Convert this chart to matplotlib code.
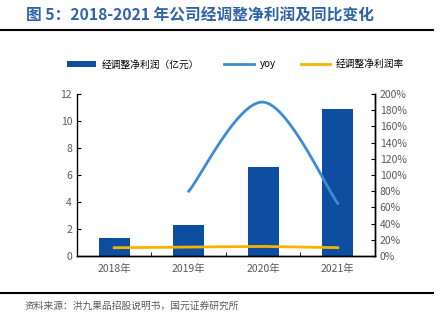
import numpy as np
import matplotlib
matplotlib.use("Agg")
import matplotlib.pyplot as plt
from matplotlib.ticker import FuncFormatter

plt.rcParams['font.family'] = ['Noto Sans CJK SC', 'DejaVu Sans']

years = ["2018年", "2019年", "2020年", "2021年"]
profit = [1.3, 2.3, 6.6, 10.9]          # 经调整净利润（亿元）
yoy = [None, 80, 190, 65]               # %
margin = [10.2, 11.0, 11.8, 10.3]       # 经调整净利润率 %

BAR = '#0d4ea0'
LINE = '#3d8bd6'
YEL = '#f5b400'
GREY = '#595959'


def smooth(xs, ys, n=40):
	# catmull-rom style smoothing, like the office "smoothed line"
	xs = np.asarray(xs, float); ys = np.asarray(ys, float)
	px, py = [], []
	for i in range(len(xs) - 1):
		x0, y0 = (xs[i-1], ys[i-1]) if i > 0 else (xs[i], ys[i])
		x3, y3 = (xs[i+2], ys[i+2]) if i + 2 < len(xs) else (xs[i+1], ys[i+1])
		x1, y1, x2, y2 = xs[i], ys[i], xs[i+1], ys[i+1]
		c1 = (x1 + (x2 - x0) / 6, y1 + (y2 - y0) / 6)
		c2 = (x2 - (x3 - x1) / 6, y2 - (y3 - y1) / 6)
		t = np.linspace(0, 1, n)
		px.append((1-t)**3*x1 + 3*(1-t)**2*t*c1[0] + 3*(1-t)*t**2*c2[0] + t**3*x2)
		py.append((1-t)**3*y1 + 3*(1-t)**2*t*c1[1] + 3*(1-t)*t**2*c2[1] + t**3*y2)
	return np.concatenate(px), np.concatenate(py)


fig = plt.figure(figsize=(4.44, 3.22), dpi=100)
ax = fig.add_axes([0.1734, 0.205, 0.6712, 0.503])
ax2 = ax.twinx()

x = np.arange(len(years))
bars = ax.bar(x, profit, width=0.42, color=BAR, label="经调整净利润（亿元）", zorder=2)

yx = [i for i, v in enumerate(yoy) if v is not None]
yv = [v for v in yoy if v is not None]
sx, sy = smooth(yx, yv)
l1, = ax2.plot(sx, sy, color=LINE, lw=2, label="yoy")
l2, = ax2.plot(x, margin, color=YEL, lw=2, label="经调整净利润率")

ax.set_xlim(-0.5, 3.5)
ax.set_ylim(0, 12)
ax.set_yticks(range(0, 13, 2))
ax2.set_ylim(0, 200)
ax2.set_yticks(range(0, 201, 20))
ax2.yaxis.set_major_formatter(FuncFormatter(lambda v, p: f"{int(v)}%"))

ax.set_xticks(x)
ax.set_xticklabels(years)
ax.set_xticks([-0.5, 0.5, 1.5, 2.5, 3.5], minor=True)
ax.tick_params(axis='x', which='major', length=0, pad=6)
ax.tick_params(axis='x', which='minor', direction='in', length=3)
ax.tick_params(axis='y', direction='in', length=3)
ax2.tick_params(axis='y', direction='in', length=3)
for a in (ax, ax2):
	a.spines['top'].set_visible(False)
	for s in a.spines.values():
		s.set_linewidth(1)
	a.tick_params(labelsize=7.5, labelcolor=GREY)
ax2.spines['left'].set_visible(False)

fig.legend(handles=[bars, l1, l2], loc='center', bbox_to_anchor=(0.53, 0.80), ncol=3,
	frameon=False, fontsize=7, handlelength=3, columnspacing=2.6, handletextpad=0.6)

fig.text(0.058, 0.953, "图 5：2018-2021 年公司经调整净利润及同比变化", fontsize=11.3,
	fontweight='bold', color='#2e63a8', va='center')
fig.add_artist(plt.Line2D([0, 0.975], [0.907, 0.907], color='black', lw=1.5))
fig.add_artist(plt.Line2D([0, 0.975], [0.09, 0.09], color='black', lw=1.5))
fig.text(0.055, 0.05, "资料来源：洪九果品招股说明书，国元证券研究所", fontsize=7, color=GREY, va='center')

fig.savefig("out.png", dpi=100)
